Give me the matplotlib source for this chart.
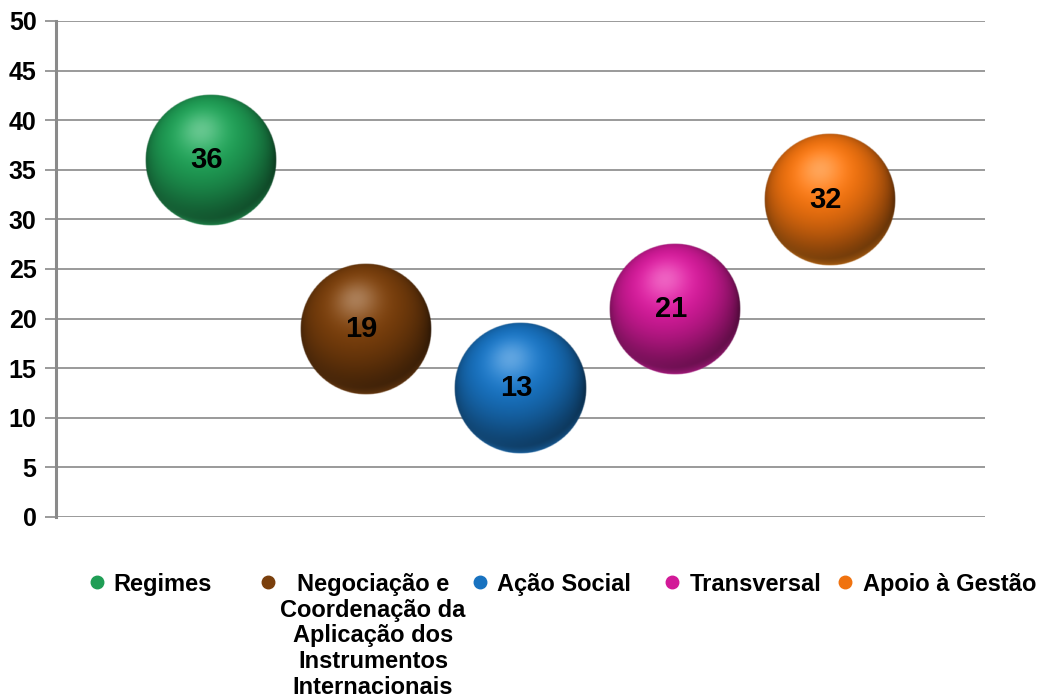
import numpy as np
import matplotlib
matplotlib.use("Agg")
import matplotlib.pyplot as plt
from matplotlib.colors import to_rgb

plt.rcParams['font.family'] = ['Liberation Sans', 'DejaVu Sans']
plt.rcParams['font.weight'] = 'bold'

# data
categories = ['Regimes',
              'Negociação e\nCoordenação da\nAplicação dos\nInstrumentos\nInternacionais',
              'Ação Social', 'Transversal', 'Apoio à Gestão']
values = [36, 19, 13, 21, 32]
colors = ['#1f9e55', '#7a3f0c', '#1872c0', '#d21a98', '#f0720f']


def sphere_image(color, n=220):
    # shaded sphere as an RGBA image
    base = np.array(to_rgb(color))
    u = np.linspace(-1, 1, n)
    uu, vv = np.meshgrid(u, u)
    r2 = uu ** 2 + vv ** 2
    z = np.sqrt(np.clip(1 - r2, 0, 1))
    L = np.array([-0.15, 0.45, 0.88])
    L = L / np.linalg.norm(L)
    d = np.clip(uu * L[0] + vv * L[1] + z * L[2], 0, 1)
    shade = 0.36 + 0.74 * d
    rgb = base[None, None, :] * shade[..., None]
    rim = ((1 - z) ** 1.5 * np.clip(-vv, 0, 1) * 0.6)[..., None]
    rgb = rgb * (1 - rim) + np.clip(base * 1.2 + 0.05, 0, 1) * rim
    spec = (d ** 18 * 0.3)[..., None]
    rgb = rgb * (1 - spec) + spec
    rgb = np.clip(rgb, 0, 1)
    r = np.sqrt(r2)
    alpha = np.clip((1 - r) * n / 2.5, 0, 1)
    return np.dstack([rgb, alpha])


fig = plt.figure(figsize=(10.41, 6.99), dpi=100)
ax = fig.add_axes([56 / 1041, 1 - 517 / 699, 929 / 1041, 496 / 699])
ax.set_xlim(0, 6)
ax.set_ylim(0, 50)
ax.set_yticks(np.arange(0, 51, 5))
ax.set_xticks([])
ax.grid(axis='y', color='#9a9a9a', linewidth=1.4, zorder=0)
ax.set_axisbelow(True)
for s in ['top', 'right', 'bottom']:
    ax.spines[s].set_visible(False)
ax.spines['left'].set_color('#8a8a8a')
ax.spines['left'].set_linewidth(2.2)
ax.tick_params(axis='y', length=8, width=1.4, color='#9a9a9a', labelsize=18, pad=6)
for t in ax.get_yticklabels():
    t.set_fontweight('bold')

# bubble radius in data units (all bubbles same size)
bb = ax.get_window_extent()
r_px = 66
rx = r_px * 6 / bb.width
ry = r_px * 50 / bb.height

xs = np.arange(1, len(values) + 1)
for x, v, c in zip(xs, values, colors):
    ax.imshow(sphere_image(c), extent=[x - rx, x + rx, v - ry, v + ry],
              origin='lower', aspect='auto', interpolation='bilinear', zorder=3)
    ax.text(x - 0.03, v, str(v), ha='center', va='center', fontsize=21,
            fontweight='bold', color='black', zorder=4)
ax.set_xlim(0, 6)
ax.set_ylim(0, 50)

# legend
marker_x = [97, 268, 480, 672, 845]
text_x = [113, 373, 497, 690, 863]
text_ha = ['left', 'center', 'left', 'left', 'left']
for mx, tx, ha, lab, c in zip(marker_x, text_x, text_ha, categories, colors):
    fig.add_artist(plt.Line2D([mx / 1041], [1 - 582 / 699], marker='o', markersize=9,
                              markerfacecolor=c, markeredgecolor=c, linestyle='none',
                              transform=fig.transFigure))
    fig.text(tx / 1041, 1 - 573 / 699, lab, ha=ha, va='top', fontsize=17,
             fontweight='bold', linespacing=1.15, multialignment='center')

fig.savefig('out.png', dpi=100)
